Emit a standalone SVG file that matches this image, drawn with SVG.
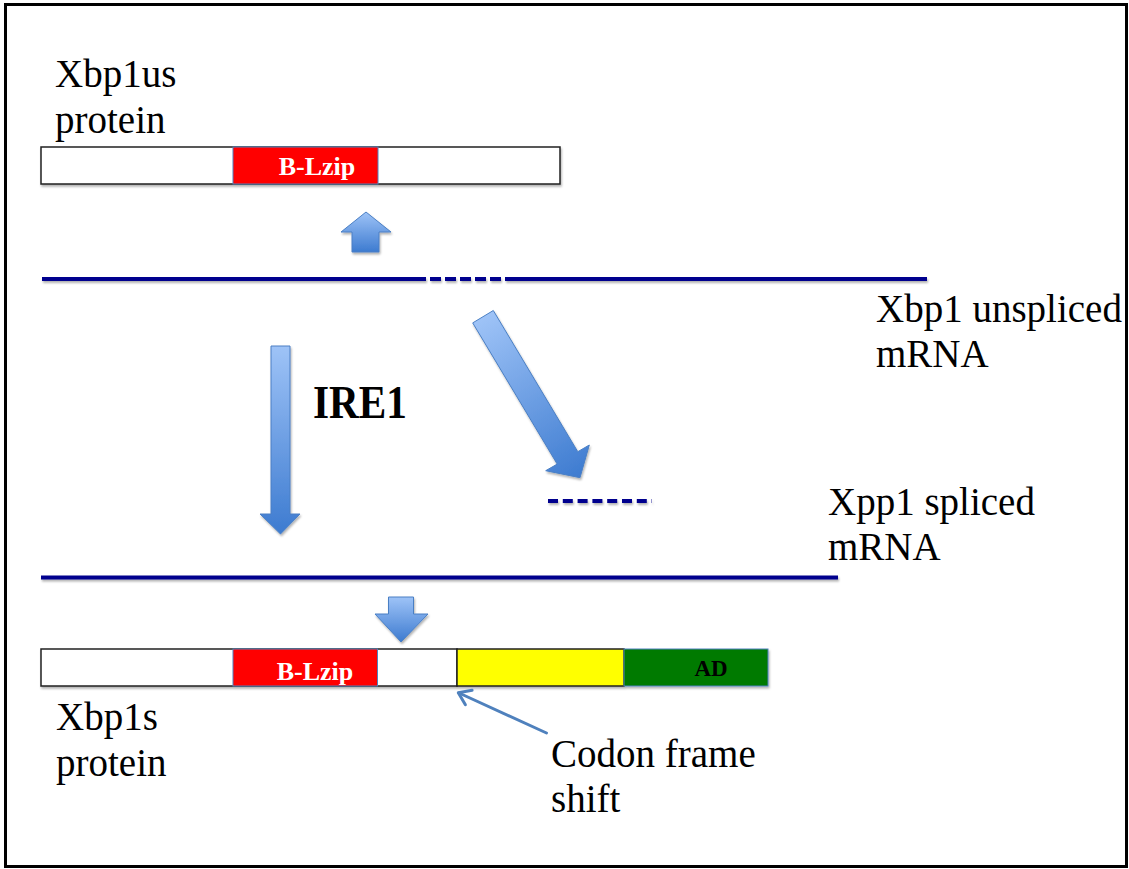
<svg xmlns="http://www.w3.org/2000/svg" width="1129" height="869" viewBox="0 0 1129 869">
  <defs>
    <linearGradient id="gV" x1="0" y1="0" x2="0" y2="1">
      <stop offset="0" stop-color="#9ec3f7"/>
      <stop offset="1" stop-color="#3d7bd0"/>
    </linearGradient>
    <linearGradient id="gD" gradientUnits="userSpaceOnUse" x1="483" y1="317" x2="580" y2="478">
      <stop offset="0" stop-color="#9ec3f7"/>
      <stop offset="1" stop-color="#3d7bd0"/>
    </linearGradient>
    <filter id="sh" filterUnits="userSpaceOnUse" x="0" y="0" width="1129" height="869">
      <feDropShadow dx="1" dy="2" stdDeviation="1.2" flood-color="#000" flood-opacity="0.3"/>
    </filter>
  </defs>
  <style>
    .lbl { font-family: "Liberation Serif", "DejaVu Serif", serif; font-size: 39px; fill: #000; }
    .dom { font-family: "Liberation Serif", "DejaVu Serif", serif; font-weight: bold; }
    .bar { stroke: #222; stroke-width: 1.5; }
    .mrna { stroke: #00008e; stroke-width: 4; fill: none; }
    .blk { fill: url(#gV); stroke: #4a7fc4; stroke-width: 1; }
    .thin { stroke: #4f81bd; stroke-width: 3; fill: none; stroke-linecap: round; stroke-linejoin: round; }
  </style>

  <rect x="0" y="0" width="1129" height="869" fill="#fff"/>
  <rect id="frame" x="5.5" y="4.5" width="1121" height="862" fill="none" stroke="#000" stroke-width="3"/>

  <g id="xbp1us-protein">
    <text class="lbl" x="55" y="87">Xbp1us</text>
    <text class="lbl" x="55" y="133">protein</text>
    <g filter="url(#sh)">
      <rect class="bar" x="41" y="147" width="519" height="37" fill="#fff"/>
      <rect x="233" y="147" width="145" height="37" fill="#ff0000" stroke="#4f81bd" stroke-width="1"/>
    </g>
    <text class="dom" x="317" y="175" font-size="26" fill="#fff" text-anchor="middle">B-Lzip</text>
  </g>

  <g id="unspliced-mrna">
    <g filter="url(#sh)">
      <line class="mrna" x1="42" y1="279" x2="426" y2="279"/>
      <line class="mrna" x1="430" y1="279" x2="508" y2="279" stroke-dasharray="11 4"/>
      <line class="mrna" x1="508" y1="279" x2="927" y2="279"/>
    </g>
    <text class="lbl" x="876" y="322">Xbp1 unspliced</text>
    <text class="lbl" x="876" y="367">mRNA</text>
  </g>

  <g id="ire1-label">
    <text class="dom" x="313" y="418" font-size="46" fill="#000" textLength="94" lengthAdjust="spacingAndGlyphs">IRE1</text>
  </g>

  <g id="intron-fragment">
    <line class="mrna" x1="548" y1="501" x2="652" y2="501" stroke-dasharray="10 4.8" filter="url(#sh)"/>
  </g>

  <g id="spliced-mrna">
    <line class="mrna" x1="41" y1="577.5" x2="838" y2="577.5" filter="url(#sh)"/>
    <text class="lbl" x="828" y="515">Xpp1 spliced</text>
    <text class="lbl" x="828" y="560">mRNA</text>
  </g>

  <g id="xbp1s-protein">
    <g filter="url(#sh)">
      <rect class="bar" x="41" y="649" width="416" height="37" fill="#fff"/>
      <rect x="233" y="649" width="144.5" height="37" fill="#ff0000" stroke="#4f81bd" stroke-width="1"/>
      <rect class="bar" x="457" y="649" width="167" height="37" fill="#ffff00"/>
      <rect x="624" y="649" width="144" height="37" fill="#007a00" stroke="#4f81bd" stroke-width="1"/>
    </g>
    <text class="dom" x="315" y="680" font-size="26" fill="#fff" text-anchor="middle">B-Lzip</text>
    <text class="dom" x="711" y="676" font-size="23" fill="#000" text-anchor="middle">AD</text>
    <text class="lbl" x="56" y="730">Xbp1s</text>
    <text class="lbl" x="56" y="776">protein</text>
  </g>

  <g id="codon-label">
    <text class="lbl" x="551" y="767">Codon frame</text>
    <text class="lbl" x="551" y="812">shift</text>
  </g>

  <g id="connectors">
    <polygon id="arrow-up-translate" class="blk" filter="url(#sh)" points="366,212 391,232 379,232 379,252 352,252 352,232 341,232"/>
    <polygon id="arrow-ire1" class="blk" filter="url(#sh)" points="271,346 290,346 290,514 300,514 280.5,534 260,514 271,514"/>
    <polygon id="arrow-splice-out" fill="url(#gD)" stroke="#4a7fc4" stroke-width="1" filter="url(#sh)" points="493.3,310.5 577.8,451.7 589.3,445 580,477.7 545.7,470.7 557.2,464.1 472.7,322.9"/>
    <polygon id="arrow-down-translate" class="blk" filter="url(#sh)" points="388.5,597 413.5,597 413.5,614 428,614 401,642 375,614 388.5,614"/>
    <g id="arrow-frameshift">
      <line class="thin" x1="546.5" y1="733" x2="459" y2="693"/>
      <polyline class="thin" points="472.1,690.2 458.3,692.7 465.4,704.8"/>
    </g>
  </g>
</svg>
